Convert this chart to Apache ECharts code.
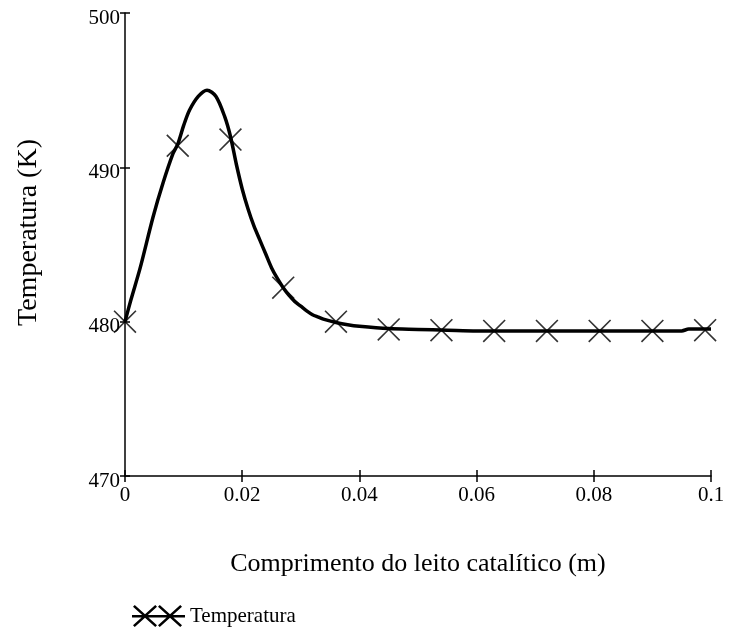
<!DOCTYPE html>
<html>
<head>
<meta charset="utf-8">
<script src="https://cdn.jsdelivr.net/npm/echarts@6/dist/echarts.min.js"></script>
<style>
  html, body { margin: 0; padding: 0; background: #fff; }
  #chart { width: 732px; height: 634px; }
</style>
</head>
<body>
<div id="chart"></div>
<script>
// Curve: bed length (m) vs temperature (K)
const lengths = [0, 0.001, 0.0026, 0.0048, 0.0065, 0.0082, 0.009, 0.010, 0.011, 0.0125, 0.014, 0.0155, 0.017, 0.018,
  0.019, 0.020, 0.021, 0.022, 0.023, 0.024, 0.025, 0.026, 0.027, 0.028, 0.029, 0.030, 0.031, 0.032, 0.033, 0.034,
  0.036, 0.038, 0.040, 0.045, 0.050, 0.055, 0.060, 0.070, 0.080, 0.090, 0.095, 0.0962, 0.1];
const temps = [480.0, 481.4, 483.5, 486.8, 489.0, 490.9, 491.5, 492.7, 493.7, 494.6, 495.0, 494.6, 493.3, 492.0,
  490.2, 488.6, 487.3, 486.2, 485.3, 484.4, 483.5, 482.8, 482.2, 481.7, 481.3, 481.0, 480.7, 480.45, 480.3, 480.15,
  479.95, 479.8, 479.7, 479.55, 479.5, 479.45, 479.4, 479.4, 479.4, 479.4, 479.4, 479.52, 479.52];

// Marker points (every 0.009 m)
const markerLengths = [0, 0.009, 0.018, 0.027, 0.036, 0.045, 0.054, 0.063, 0.072, 0.081, 0.090, 0.099];
const markerTemps = [480.0, 491.4, 491.8, 482.2, 480.0, 479.5, 479.45, 479.4, 479.4, 479.4, 479.4, 479.45];

const xTicks = [0, 0.02, 0.04, 0.06, 0.08, 0.1];
const yTicks = [470, 480, 490, 500];

const FONT = '"Liberation Serif", "Times New Roman", serif';

// thin X cross as a filled polygon
function crossPath(cx, cy, hx, hy, d) {
  return 'M' + (cx - hx) + ' ' + (cy - hy + d) + ' L' + (cx - hx + d) + ' ' + (cy - hy) +
    ' L' + cx + ' ' + (cy - d) + ' L' + (cx + hx - d) + ' ' + (cy - hy) +
    ' L' + (cx + hx) + ' ' + (cy - hy + d) + ' L' + (cx + d) + ' ' + cy +
    ' L' + (cx + hx) + ' ' + (cy + hy - d) + ' L' + (cx + hx - d) + ' ' + (cy + hy) +
    ' L' + cx + ' ' + (cy + d) + ' L' + (cx - hx + d) + ' ' + (cy + hy) +
    ' L' + (cx - hx) + ' ' + (cy + hy - d) + ' L' + (cx - d) + ' ' + cy + ' Z';
}

const markerSymbol = 'path://' + crossPath(50, 50, 50, 50, 5);
const legendIcon = 'path://M0 20 L106 20 L106 25 L0 25 Z ' +
  crossPath(26, 22, 24, 22, 3.5) + ' ' + crossPath(76, 22, 24, 22, 3.5);

const chart = echarts.init(document.getElementById('chart'));

const baseX = {
  type: 'value',
  position: 'bottom',
  min: 0,
  max: 0.1,
  interval: 0.02,
  splitLine: { show: false }
};
const baseY = {
  type: 'value',
  position: 'left',
  min: 470,
  max: 500,
  interval: 10,
  splitLine: { show: false }
};

const option = {
  backgroundColor: '#fff',
  animation: false,
  grid: { left: 125, right: 21, top: 13, bottom: 158, containLabel: false },
  legend: {
    left: 127,
    top: 600,
    data: [{ name: 'Temperatura', icon: legendIcon }],
    itemWidth: 53,
    itemHeight: 22,
    itemGap: 10,
    textStyle: { fontFamily: FONT, fontSize: 21, color: '#000' },
    itemStyle: { color: '#000' }
  },
  xAxis: [
    Object.assign({}, baseX, {
      name: 'Comprimento do leito catalítico (m)',
      nameLocation: 'middle',
      nameGap: 75,
      nameTextStyle: { fontFamily: FONT, fontSize: 26, color: '#000' },
      axisLine: { onZero: false, lineStyle: { color: '#000', width: 1.5 } },
      axisTick: { show: true, length: 6, lineStyle: { color: '#000', width: 1.5 } },
      axisLabel: {
        fontFamily: FONT, fontSize: 21, color: '#000', margin: 9,
        formatter: v => String(+v.toFixed(2)),
        showMinLabel: true, showMaxLabel: true
      }
    }),
    Object.assign({}, baseX, {
      axisLine: { show: false },
      axisTick: { show: true, inside: true, length: 6, lineStyle: { color: '#000', width: 1.5 } },
      axisLabel: { show: false }
    })
  ],
  yAxis: [
    Object.assign({}, baseY, {
      name: 'Temperatura (K)',
      nameLocation: 'middle',
      nameRotate: 90,
      nameGap: 82,
      nameTextStyle: { fontFamily: FONT, fontSize: 28, color: '#000', padding: [0, 0, 0, 24] },
      axisLine: { onZero: false, lineStyle: { color: '#000', width: 1.5 } },
      axisTick: { show: true, length: 5, lineStyle: { color: '#000', width: 1.5 } },
      axisLabel: {
        color: '#000', margin: 5,
        formatter: v => '{t|' + v + '}',
        rich: { t: { fontFamily: FONT, fontSize: 21, color: '#000', padding: [10, 0, 0, 0] } }
      }
    }),
    Object.assign({}, baseY, {
      axisLine: { show: false },
      axisTick: { show: true, inside: true, length: 5, lineStyle: { color: '#000', width: 1.5 } },
      axisLabel: { show: false }
    })
  ],
  series: [
    {
      name: 'Temperatura',
      type: 'line',
      data: lengths.map((x, i) => [x, temps[i]]),
      showSymbol: false,
      smooth: 0.3,
      lineStyle: { color: '#000', width: 3.5 },
      itemStyle: { color: '#000' },
      z: 2
    },
    {
      name: 'Temperatura',
      type: 'scatter',
      data: markerLengths.map((x, i) => [x, markerTemps[i]]),
      symbol: markerSymbol,
      symbolSize: 23,
      itemStyle: { color: '#000' },
      z: 3
    }
  ]
};

chart.setOption(option);
</script>
</body>
</html>
